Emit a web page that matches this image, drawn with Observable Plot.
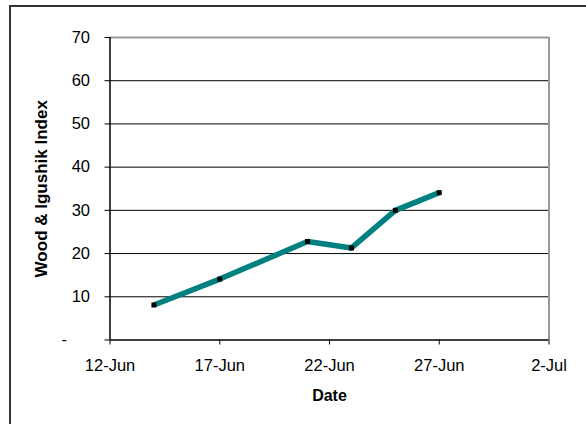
<!DOCTYPE html>
<html>
<head>
<meta charset="utf-8">
<script src="https://cdn.jsdelivr.net/npm/d3@7"></script>
<script src="https://cdn.jsdelivr.net/npm/@observablehq/plot@0.6"></script>
<style>
  html, body { margin: 0; padding: 0; background: #fff; }
  #chart { position: relative; width: 586px; height: 424px; overflow: hidden; background: #fff; }
  #chart .frame { position: absolute; left: 9px; top: 5px; width: 700px; height: 600px; border: 2px solid #333; box-sizing: border-box; }
  #chart svg { position: absolute; left: 0; top: 0; }
  #chart g[aria-label$="tick label"] { font-size: 16.5px; }
</style>
</head>
<body>
<div id="chart"><div class="frame"></div></div>
<script>
// Sampling dates and index values
const dates = ["2008-06-14", "2008-06-17", "2008-06-21", "2008-06-23", "2008-06-25", "2008-06-27"];
const values = [8.1, 14.1, 22.8, 21.3, 30.0, 34.1];

// Axis ticks
const xTicks = ["2008-06-12", "2008-06-17", "2008-06-22", "2008-06-27", "2008-07-02"];
const yTicks = [0, 10, 20, 30, 40, 50, 60, 70];
const gridValues = [10, 20, 30, 40, 50, 60];

const xTickDates = xTicks.map(d => new Date(d));
const data = dates.map((d, i) => ({date: new Date(d), value: values[i]}));
const fmtDate = d3.utcFormat("%-d-%b");

const chart = Plot.plot({
  width: 586,
  height: 424,
  marginLeft: 109.5,
  marginRight: 37.5,
  marginTop: 37,
  marginBottom: 84.5,
  style: {fontFamily: "'Liberation Sans', Arial, sans-serif", fontSize: "16px", color: "#000", background: "transparent"},
  x: {type: "utc", domain: [xTickDates[0], xTickDates[xTickDates.length - 1]]},
  y: {domain: [0, 70]},
  marks: [
    Plot.ruleY(gridValues, {stroke: "#000", strokeWidth: 1}),
    Plot.ruleY([70], {stroke: "#999", strokeWidth: 2}),
    Plot.ruleX([xTickDates[xTickDates.length - 1]], {stroke: "#999", strokeWidth: 2}),
    Plot.ruleX([xTickDates[0]], {stroke: "#000", strokeWidth: 1.5}),
    Plot.ruleY([0], {stroke: "#000", strokeWidth: 1.5}),
    Plot.axisY({
      ticks: yTicks,
      tickSize: 5,
      tickPadding: 15,
      tickFormat: d => d === 0 ? "-\u00a0\u00a0\u00a0\u00a0\u00a0" : String(d),
      label: null,
      stroke: "#000",
      fill: "#000"
    }),
    Plot.axisX({
      ticks: xTickDates,
      tickSize: 5,
      tickPadding: 14,
      tickFormat: fmtDate,
      label: null,
      stroke: "#000",
      fill: "#000"
    }),
    Plot.text(["Date"], {
      frameAnchor: "bottom",
      dy: 56,
      textAnchor: "middle",
      lineAnchor: "middle",
      fontWeight: "bold",
      fontSize: 16,
      fill: "#000"
    }),
    Plot.text(["Wood & Igushik Index"], {
      frameAnchor: "left",
      dx: -68.5,
      rotate: -90,
      textAnchor: "middle",
      lineAnchor: "middle",
      fontWeight: "bold",
      fontSize: 17,
      fill: "#000"
    }),
    Plot.line(data, {x: "date", y: "value", stroke: "#008080", strokeWidth: 5.5, strokeLinejoin: "round", strokeLinecap: "butt"}),
    Plot.dot(data, {x: "date", y: "value", symbol: "square", r: 2.8, fill: "#000", stroke: "none"})
  ]
});

document.getElementById("chart").appendChild(chart);
</script>
</body>
</html>
